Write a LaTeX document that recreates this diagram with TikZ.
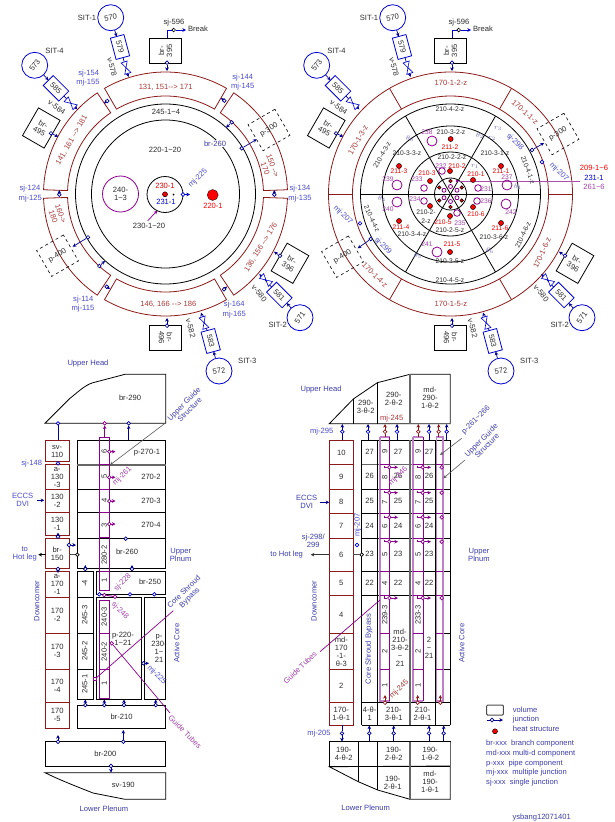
\documentclass[tikz,border=0pt]{standalone}
\usepackage{fontspec}
\setmainfont{Liberation Sans}
\usetikzlibrary{arrows.meta}

\definecolor{ringred}{HTML}{8B1A1A}
\definecolor{txtred}{HTML}{A83838}
\definecolor{txtblue}{HTML}{4A4AC8}
\definecolor{txtnavy}{HTML}{3C3CA8}
\definecolor{navy}{HTML}{000090}
\definecolor{jblue}{HTML}{0000D0}
\definecolor{tubepurple}{HTML}{8B008B}
\definecolor{tubelight}{HTML}{C080C8}
\definecolor{txtpurple}{HTML}{A040A8}
\definecolor{txtdark}{HTML}{2A2A2A}

\newcommand{\lblfont}{\fontsize{7.6}{8}\selectfont}
\newcommand{\smfont}{\fontsize{6.7}{7.5}\selectfont}

% junction with an arrow leaving it / arrow coming into it
\newcommand{\jct}[4][navy]{\node[jn,draw=#1] (#2) at (#3) {}; \coordinate (#2h) at (#4); \draw[arw,#1] (#2) -- (#2h);}
\newcommand{\jin}[4][navy]{\node[jn,draw=#1] (#2) at (#3) {}; \coordinate (#2t) at (#4); \draw[arw,#1] (#2t) -- (#2);}
% box given by its corners
\newcommand{\cell}[7][box]{\node[#1,minimum width={(#5-#3)*1pt},minimum height={(#6-#4)*1pt}] (#2) at ({(#3+#5)/2},{(#4+#6)/2}) {#7};}
\newcommand{\ringsector}[2]{\draw[ring] (#1:122pt) arc[start angle=#1,end angle=#2,radius=122pt] -- (#2:98pt) arc[start angle=#2,end angle=#1,radius=98pt] -- cycle;}
\newcommand{\valve}[3]{\draw[jblue,fill=white,line width=0.6pt,shift={(#1,#2)},rotate=#3] (-6pt,-3.2pt) -- (6pt,3.2pt) -- (6pt,-3.2pt) -- (-6pt,3.2pt) -- cycle;}

\tikzset{
  lbl/.style={font=\lblfont,text=txtdark,inner sep=0pt,align=center},
  smlbl/.style={font=\smfont,text=txtdark,inner sep=0pt,align=center},
  bluelbl/.style={lbl,text=txtblue},
  navylbl/.style={lbl,text=txtnavy},
  redlbl/.style={lbl,text=txtred},
  purplelbl/.style={lbl,text=txtpurple},
  box/.style={draw=black,line width=0.8pt,font=\lblfont,text=txtdark,inner sep=0pt,outer sep=0pt,align=center},
  redbox/.style={box,draw=ringred,line width=0.9pt},
  ring/.style={draw=ringred,line width=0.8pt},
  dashbox/.style={box,dashed,line width=0.6pt,minimum width=31pt,minimum height=30pt,rotate=30},
  tank/.style={box,circle,draw=jblue,minimum size=26pt},
  sitbox/.style={box,draw=jblue,minimum width=22pt,minimum height=14pt},
  brbox/.style={box,minimum width=25pt,minimum height=32pt},
  jn/.style={circle,draw,fill=white,line width=0.7pt,inner sep=0pt,minimum size=3.6pt},
  arw/.style={-{Stealth[length=3.6pt,width=3.6pt]},line width=0.7pt},
  leader/.style={-{Stealth[length=3.5pt,width=3pt]},draw=black!65,line width=0.6pt},
  tube/.style={draw=tubepurple,line width=0.9pt},
  tubeband/.style={draw=tubelight,line width=1.6pt},
  htdot/.style={circle,draw=black,fill=red,line width=0.5pt,inner sep=0pt,minimum size=5pt},
  pcirc/.style={circle,draw=tubepurple,line width=0.8pt,inner sep=0pt,minimum size=#1},
  % accumulators, valves and their lines round a disk
  sitset/.pic={
    \node[tank] (-c570) at (110.7,17.7) {\rotatebox{10}{570}};
    \node[tank] (-c573) at (34.7,65.3) {\rotatebox{55}{573}};
    \node[tank] (-c571) at (300,317.7) {\rotatebox{55}{571}};
    \node[tank] (-c572) at (219,371) {\rotatebox{10}{572}};
    \node[sitbox,rotate=-75] (-b579) at (120,47) {579};
    \node[sitbox,rotate=-45] (-b585) at (56,88.3) {585};
    \node[sitbox,rotate=-45] (-b581) at (279.3,295) {581};
    \node[sitbox,rotate=-75] (-b583) at (210.7,341) {583};
    \coordinate (-t578) at (128.5,77);
    \coordinate (-t584) at (77.3,109.3);
    \coordinate (-t580) at (259.3,274);
    \coordinate (-t582) at (201,312.7);
    \draw[arw,navy] (-c570) -- (-b579);
    \draw[arw,navy] (-c573) -- (-b585);
    \draw[arw,navy] (-c571) -- (-b581);
    \draw[arw,navy] (-c572) -- (-b583);
    \draw[arw,navy] (-b579) -- (-t578);
    \draw[arw,navy] (-b585) -- (-t584);
    \draw[arw,navy] (-b581) -- (-t580);
    \draw[arw,navy] (-b583) -- (-t582);
    \valve{126}{67.7}{-72}
    \valve{70.7}{103.3}{-42}
    \valve{266}{280}{-42}
    \valve{204}{322.7}{-72}
    \node[lbl] (-s1) at (87,18) {SIT-1};
    \node[lbl] (-s4) at (54.5,51) {SIT-4};
    \node[lbl] (-s2) at (277.7,325) {SIT-2};
    \node[lbl] (-s3) at (247.3,361) {SIT-3};
    \node[lbl,rotate=-75] (-v578) at (112,66.7) {v-578};
    \node[lbl,rotate=-35] (-v584) at (56.7,107.3) {v-584};
    \node[lbl,rotate=-50] (-v580) at (259.3,293.3) {v-580};
    \node[lbl,rotate=-75] (-v582) at (190.7,328.3) {v-582};
  },
  % branch boxes round a disk
  brset/.pic={
    \node[brbox,rotate=90] (-b395) at (165.5,50.8) {br-\\395};
    \node[brbox,rotate=-90] (-b496) at (165.5,337.5) {br-\\496};
    \node[brbox,rotate=-30] (-b495) at (41.3,128) {br-\\495};
    \node[brbox,rotate=-30] (-b396) at (290,263.3) {br-\\396};
    \jct{-j395}{167,62.7}{167,71}
    \jct{-j496}{167,325.7}{167,318}
    \jct{-j495}{51,133.3}{58.3,136.7}
    \jct{-j396}{280,255.7}{274,251.7}
    \node[jn,draw=black] (-j596) at (173.7,30) {};
    \coordinate (-t596) at (186,30);
    \coordinate (-e596) at (167,30);
    \coordinate (-f596) at (167,38.3);
    \draw[jblue,line width=0.7pt] (-f596) -- (-e596) -- (-j596);
    \draw[arw,jblue] (-j596) -- (-t596);
    \node[lbl] (-l596) at (174,23) {sj-596};
    \node[lbl] (-break) at (198,29) {Break};
  }
}

\begin{document}
\begin{tikzpicture}[x=1pt,y=-1pt]
\useasboundingbox (0,0) rectangle (615,822);

% left disk
\begin{scope}[shift={(165.5,194)}]
\ringsector{60}{120}
\ringsector{2}{56}
\ringsector{-2}{-56}
\ringsector{-60}{-120}
\ringsector{-124}{-178}
\ringsector{124}{178}
\draw[line width=0.8pt] (0pt,0pt) circle[radius=90pt];
\draw[line width=0.8pt] (0pt,0pt) circle[radius=74pt];
\end{scope}
\pic (DL) at (0,0) {sitset};
\pic (BL) at (0,0) {brset};

\node[pcirc=36pt] (c240) at (120.5,194) {};
\node[circle,draw=black,line width=0.8pt,minimum size=36pt,inner sep=0pt] (c230) at (165,194.5) {};
\node[circle,draw=black,fill=red,inner sep=0pt,minimum size=11pt,line width=0.3pt] (h220) at (212.7,195) {};
\node[htdot] (h230) at (165,194.3) {};
\node[circle,fill=black,inner sep=0pt,minimum size=2pt] (d231) at (173.5,194.5) {};
\jct[jblue]{j225}{183,194.5}{190,194.5}
\coordinate (a230s) at (147.7,220.7);
\coordinate (a230e) at (157.3,210.7);
\draw[arw,tubepurple] (a230s) -- (a230e);

\node[redlbl,text=red!85!black] (l230) at (165,186) {230-1};
\node[bluelbl,text=jblue] (l231) at (166,202) {231-1};
\node[redlbl,text=red] (l220) at (213,206) {220-1};
\node[lbl] (l2301) at (149,226) {230-1\textasciitilde 20};
\node[lbl] (l240) at (120.5,194) {240-\\1\textasciitilde 3};
\node[lbl] (l245) at (166,112) {245-1\textasciitilde 4};
\node[lbl] (l220a) at (165,150) {220-1\textasciitilde 20};
\node[bluelbl,rotate=45] (lmj225) at (198,178) {mj-225};
\node[navylbl,fill=white,inner sep=0.5pt] (lbr260) at (215,143.3) {br-260};

\node[redlbl] (s131) at (165.7,87) {131, 151-{}-> 171};
\node[redlbl,rotate=-70] (s150) at (269,167) {150 -{}->\\170};
\node[redlbl,rotate=60] (s141) at (71.7,140) {141, 161 -{}-> 181};
\node[redlbl,rotate=-70] (s160) at (57,215) {160->\\180};
\node[redlbl,rotate=58] (s136) at (261,247.3) {136, 156 -{}-> 176};
\node[redlbl] (s146) at (168.3,304.3) {146, 166 -{}-> 186};
\node[dashbox] (p300a) at (269,130) {p-300};
\node[dashbox] (p400a) at (57.5,255.7) {p-400};

\jct{j155}{107.3,101}{104,103.5}
\jct{j145}{224.3,100.7}{221,98}
\jct{j300b}{231.7,122.3}{226,127.7}
\jct{j300a}{241.7,148.3}{256.7,139.3}
\jct{j125}{59.3,194.7}{59.3,190}
\jct{j135}{274.3,194.7}{274.3,190}
\jct{j400a}{88,237.3}{72.7,246.7}
\jct{j400b}{99.3,266}{105,261}
\jct{j115}{106.7,286.7}{110,289}
\jct{j165}{224,289.3}{227,286.5}

\node[bluelbl] (l154) at (88.7,73.3) {sj-154};
\node[bluelbl] (l155) at (88,83) {mj-155};
\node[bluelbl] (l144) at (242.7,77.3) {sj-144};
\node[bluelbl] (l145) at (242.7,87) {mj-145};
\node[bluelbl] (l124) at (30,189) {sj-124};
\node[bluelbl] (l125) at (30.3,199) {mj-125};
\node[bluelbl] (l134) at (300,189) {sj-134};
\node[bluelbl] (l135) at (300,199) {mj-135};
\node[bluelbl] (l114) at (83.3,299.3) {sj-114};
\node[bluelbl] (l115) at (83,309) {mj-115};
\node[bluelbl] (l164) at (234.3,305) {sj-164};
\node[bluelbl] (l165) at (234.3,315) {mj-165};

% right disk
\begin{scope}[shift={(450.5,194)}]
\foreach \r in {122,98} \draw[ring] (0pt,0pt) circle[radius=\r pt];
\foreach \r in {90,68,42,16} \draw[line width=0.8pt] (0pt,0pt) circle[radius=\r pt];
\foreach \a in {0,60,...,300} \draw[ring] (\a:98pt) -- (\a:122pt);
\foreach \a in {0,60,120} \draw[line width=0.8pt] (\a:90pt) -- (\a+180:90pt);
\foreach \a in {30,90,...,330} \node[htdot,minimum size=3.6pt] (hc\a) at (\a:13pt) {};
\foreach \a in {30,90,...,330} \node[pcirc=4pt,fill=white] (pc\a) at (\a:7.5pt) {};
\end{scope}
\pic (DR) at (282,0) {sitset};
\pic (BR) at (285,0) {brset};

\node[circle,fill=tubepurple,inner sep=0pt,minimum size=3pt] (p231) at (457,181) {};
\coordinate (p231e) at (580,181);
\draw[draw=tubepurple!70,line width=1pt] (p231) -- (p231e);

\foreach \n/\x/\y in {2/450.7/139,3/399/166,1/501/166,4/399/221,6/501/223,5/450/252} \node[htdot] (ho\n) at (\x,\y) {};
\foreach \n/\x/\y in {2/450/171,3/430/181,1/473/180,6/473/207,5/450/216,4/430/206} \node[htdot] (hm\n) at (\x,\y) {};
\foreach \n/\x/\y in {238/432/141,237/507/185,239/397/185,240/397/202,242/506/204,241/437/252} \node[pcirc=10pt] (pb\n) at (\x,\y) {};
\foreach \n/\x/\y in {232/442/171,233/424/188,231/478/188,236/477/201,235/457/213,234/424/201} \node[pcirc=6.6pt] (ps\n) at (\x,\y) {};

\foreach \n/\x/\y in {238/427/132,237/507/177,239/388/179,233/417/179,232/441/166,231/486/189,236/486/201,235/460/223,234/415/199,240/388/209,242/511/212,241/427/244}
  \node[smlbl,text=txtpurple] (lp\n) at (\x,\y) {\n};
\foreach \n/\x/\y in {211-2/450/147,211-3/399/171,211-1/501/171,211-4/401/227,211-6/500/228,211-5/452/244,210-2/457/166,210-3/427/173,210-1/476/174,210-6/476/214,210-5/443/222}
  \node[smlbl,text=red!90!black] (lr\n) at (\x,\y) {\n};
\foreach \n/\x/\y/\r in {4-2/450/109/0,3-2/451/132/0,2-2/452/157/0,3-3/407/153/0,3-1/495/153/0,4-3/382/155/60,4-1/528/170/-70,4-4/372/219/-65,4-6/523/235/65,4-5/450/280/0,3-4/412/234/0,3-5/450/261/0,3-6/494/237/0,2-5/450/230/0}
  \node[smlbl,rotate=\r] (lz\n) at (\x,\y) {210-\n-z};
\node[smlbl] (lz2-4) at (426,217) {210-2-\\[1.6pt]2-z};
\foreach \n/\x/\y/\t in {t3/410/139/\theta_3,t2/480/136/\theta_2,r3/498/128/r_3,r2/492/138/r_2,t1/518/187/\theta_1,r1/475/166/r_1,t4/382/199/\theta_4,t5/418/256/\theta_5,t6/490/251/\theta_6}
  \node[smlbl,text=txtnavy!80] (lg\n) at (\x,\y) {$\t$};

\foreach \n/\x/\y/\r in {2/451/83/0,1/525/112/-42,3/358/140/60,4/375/275/-45,5/451/304/0,6/542/253/65}
  \node[redlbl,rotate=\r] (lq\n) at (\x,\y) {170-1-\n-z};
\node[dashbox] (p300b) at (558,134) {p-300};
\node[dashbox] (p400b) at (342.5,256.7) {p-400};
\jct{j298}{532,150}{544,143}
\node[jn,draw=jblue] (j207a) at (542,162) {};
\node[jn,draw=jblue] (j207b) at (360,223.3) {};
\jct{j299}{370.7,239}{357.7,248.3}
\node[bluelbl,rotate=-45] (l298) at (515,142) {sj-298};
\node[bluelbl,rotate=-45] (l207a) at (559,172) {mj-207};
\node[bluelbl,rotate=-45] (l207b) at (343,215) {mj-207};
\node[bluelbl,rotate=-45] (l299) at (383,246) {sj-299};
\node[lbl,text=red] (l209) at (594,168) {209-1\textasciitilde 6};
\node[lbl,text=jblue] (l2311) at (594,178) {231-1};
\node[purplelbl] (l261) at (594,187) {261\textasciitilde 6};

% lower left section
\node[navylbl] (lUH) at (88,364) {Upper Head};
\draw[box] (45,423.3) -- (70,398.3) .. controls (78,392) and (85,385) .. (93,382.7) -- (125,374.3) -- (165.7,374.3) -- (165.7,423.3) -- cycle;
\node[lbl] (l290) at (130,398) {br-290};

\cell[redbox]{sv110}{45}{440.3}{69.3}{461.7}{sv-\\110}
\cell[redbox]{c1303}{45}{464.7}{69.3}{489.3}{a-\\130\\-3}
\cell[redbox]{c1302}{45}{489.3}{69.3}{512.3}{130\\-2}
\cell[redbox]{c1301}{45}{512.3}{69.3}{535.3}{130\\-1}
\cell[redbox]{br150}{45}{538.3}{69.3}{568.3}{br-\\150}
\cell[redbox]{c1701}{45}{571.3}{69.3}{597.3}{a-\\170\\-1}
\cell[redbox]{c1702}{45}{597.3}{69.3}{633.3}{170\\-2}
\cell[redbox]{c1703}{45}{633.3}{69.3}{669.3}{170\\-3}
\cell[redbox]{c1704}{45}{669.3}{69.3}{702.3}{170\\-4}
\cell[redbox]{c1705}{45}{702.3}{69.3}{728.3}{170\\-5}

\cell{p2701}{77.3}{440.3}{165.7}{465}{}
\cell{p2702}{77.3}{465}{165.7}{489.3}{}
\cell{p2703}{77.3}{489.3}{165.7}{512.3}{}
\cell{p2704}{77.3}{512.3}{165.7}{538.7}{}
\cell{br260}{77.3}{538.7}{165.7}{568.3}{}
\draw[black!60,line width=1.3pt] (p2701.south west) -- (p2701.south east);
\node[lbl] (l2701) at (147,452.5) {p-270-1};
\node[lbl] (l2702) at (151,476.5) {270-2};
\node[lbl] (l2703) at (151,500.5) {270-3};
\node[lbl] (l2704) at (151,524.5) {270-4};
\node[lbl] (l260) at (127,552) {br-260};

\cell{c2454}{77.3}{571.3}{93.3}{597.3}{}
\cell{br250}{96.7}{571.3}{165.7}{594.3}{}
\node[lbl] (l250) at (150,582) {br-250};
\cell{c2453}{77.3}{597.3}{93.3}{633.3}{}
\cell{c2452}{77.3}{633.3}{93.3}{669.3}{}
\cell{c2451}{77.3}{669.3}{93.3}{699.3}{}
\foreach \n/\y/\t in {4/583.3/-4,3/615/245-3,2/651/245-2,1/684/245-1} \node[lbl,rotate=90] (l245\n) at (84.8,\y) {\t};
\cell{p220}{96.7}{597.3}{141.7}{699.3}{}
\cell{p230}{144.7}{597.3}{165.7}{699.3}{}
\node[lbl] (l220p) at (123,639) {p-220-\\1\textasciitilde 21};
\node[lbl] (l230p) at (159,648) {p-\\230-\\1\textasciitilde \\21};
\cell{br210}{77.3}{705.7}{165.7}{728.3}{br-210}
\cell{br200}{45}{741.7}{165.7}{766.7}{br-200}
\draw[box] (45,772.7) .. controls (62,781) and (78,787) .. (93,793) -- (125,799.3) -- (165.7,799.3) -- (165.7,772.7) -- cycle;
\node[lbl] (l190) at (123.3,785) {sv-190};
\node[navylbl] (lLP) at (104,808.3) {Lower Plenum};

% guide tube column
\draw[tube] (99.3,437) rectangle (109.3,590.7);
\foreach \y in {464.7,489.3,512.3,537.7,571} \draw[tube] (99.3,\y) -- (109.3,\y);
\draw[tube] (99.3,600.7) rectangle (109.3,698.3);
\foreach \y in {633.3,669.3} \draw[tube] (99.3,\y) -- (109.3,\y);
\foreach \n/\y/\t in {6/451/6,5/476.7/5,4/500.3/4,3/525/3,280/555/280-2,1/580/1,g3/616.7/240-3,g2/651.7/240-2,g1/683.3/1}
  \node[lbl,rotate=90] (lt\n) at (104.3,\y) {\t};
\foreach \n/\y in {1/451.7,2/477.3,3/501,4/524} {\jct[tubepurple]{jt\n}{109.3,\y}{115.5,\y}}

\node[jn,draw=tubepurple] (jg240) at (104.3,595) {};
\node[jn,draw=tubepurple] (jg248) at (115,596.7) {};
\draw[tube] (jg240) -- (jg248);
\node[jn,rectangle,draw=tubepurple,minimum size=3pt] (jgcs) at (95,679) {};
\coordinate (ecs) at (173.3,610.7);
\draw[tube,line width=0.7pt] (jgcs) -- (ecs);
\node[jn,draw=tubepurple] (jggt) at (111.7,643.3) {};
\coordinate (egt) at (170,713);
\draw[tube,line width=0.7pt] (jggt) -- (egt);

\node[jn,draw=jblue] (j290a) at (58,423.3) {};
\coordinate (t290a) at (58,440.3);
\draw[jblue!80!black,line width=0.8pt] (t290a) -- (j290a);
\jin[tubepurple]{j290b}{104.7,423.3}{104.7,437}
\jin{j290c}{128.7,423.3}{128.7,440.3}
\node[jn,draw=jblue] (j148) at (58,463.3) {};
\jct{j150a}{58,536.7}{58,532.5}
\jct{j170a}{58,569}{58,573}
\jct{j150b}{69,545}{76,545}
\node[jn,draw=black] (j150c) at (77.3,554.7) {};
\coordinate (e150a) at (69.3,554.7);
\draw[black!70,line width=0.8pt] (e150a) -- (j150c);
\coordinate (s150) at (45.7,554.7);
\coordinate (t150) at (38.3,554.7);
\draw[arw,black] (s150) -- (t150);
\node[jn,draw=navy] (j270) at (125.7,538.7) {};
\jct{j255}{85.3,569}{85.3,565}
\jct{j250}{132,569}{132,565}
\foreach \n/\x in {a/99.3,b/130,c/154.3} \node[jn,draw=jblue] (jb\n) at (\x,594.3) {};
\foreach \n/\x in {a/85.3,b/104.3,c/124,d/155.7} {\jct{jc\n}{\x,705}{\x,699.5}}
\jct{j225b}{143.3,663.3}{149,663.3}
\jct{j170b}{58,741.7}{58,735}
\jct{j200}{123.3,741.7}{123.3,730}
\jct{j190}{111,766}{111,772.5}

\coordinate (ugA) at (165,423.3);
\coordinate (ugB) at (110,465);
\draw[leader] (ugA) -- (ugB);
\coordinate (ecA) at (36.7,500.3);
\coordinate (ecB) at (44.3,500.3);
\draw[arw,navy] (ecA) -- (ecB);

\node[bluelbl] (l148) at (31.7,463.3) {sj-148};
\node[bluelbl] (leccsA) at (22.7,500) {ECCS\\DVI};
\node[bluelbl] (lhotA) at (24.7,554.3) {to\\Hot leg};
\node[navylbl] (lplA) at (180.7,554.5) {Upper\\Plnum};
\node[navylbl,rotate=90] (ldcA) at (36.7,601) {Downcomer};
\node[navylbl,rotate=90] (lacA) at (176.7,643.3) {Active Core};
\node[navylbl,rotate=45] (lugA) at (186.7,406.7) {Upper Guide\\Structure};
\node[navylbl,rotate=45] (lcsA) at (187,595) {Core Shroud\\Bypass};
\node[purplelbl,rotate=45] (l261a) at (122.3,476) {mj-261};
\node[purplelbl,rotate=45] (l228) at (122.7,582.7) {sj-228};
\node[purplelbl,rotate=-45] (l248) at (120,610.7) {sj-248};
\node[purplelbl,rotate=-45] (lgtA) at (185,731.7) {Guide Tubes};
\node[bluelbl,rotate=-45] (l225b) at (156.7,675) {mj-225};

% lower right section
\node[navylbl] (lUH2) at (321,390) {Upper Head};
\draw[box] (329.3,423.7) -- (353.3,399) -- (377.3,382.7) -- (410,374.3) -- (450.3,374.3) -- (450.3,423.7) -- cycle;
\draw[box] (353.3,399) -- (353.3,423.7);
\draw[box] (377.3,382.7) -- (377.3,423.7);
\draw[black!60,line width=1.3pt] (410,374.3) -- (410,423.7) -- (450.3,423.7) -- (450.3,374.3);
\node[lbl] (u3) at (365.7,406.5) {290-\\3-θ-2};
\node[lbl] (u2) at (393.7,398.5) {290-\\2-θ-2};
\node[lbl] (u1) at (430,398) {md-\\290-\\1-θ-2};
\node[redlbl] (l245r) at (391.7,418.3) {mj-245};

\cell[redbox]{r10}{329.3}{440.3}{353.3}{464.7}{10}
\cell[redbox]{r9}{329.3}{464.7}{353.3}{489.3}{9}
\cell[redbox]{r8}{329.3}{489.3}{353.3}{513.7}{8}
\cell[redbox]{r7}{329.3}{513.7}{353.3}{538.3}{7}
\cell[redbox]{r6}{329.3}{538.3}{353.3}{571}{6}
\cell[redbox]{r5}{329.3}{571}{353.3}{595.7}{5}
\cell[redbox]{r4}{329.3}{595.7}{353.3}{633.3}{4}
\cell[redbox]{r3}{329.3}{633.3}{353.3}{669.3}{md-\\170\\-1-\\θ-3}
\cell[redbox]{r2}{329.3}{669.3}{353.3}{702.3}{2}
\cell[redbox]{r1}{329.3}{702.3}{353.3}{725.3}{170-\\1-θ-1}

\foreach \y in {440.3,489.3,513.7,538.3,571,595.7,702.3,725.3} \draw[line width=0.8pt] (361.7,\y) -- (450.3,\y);
\draw[black!60,line width=1.3pt] (361.7,464.7) -- (450.3,464.7);
\foreach \x in {361.7,377.7,435,450.3} \draw[line width=0.8pt] (\x,440.3) -- (\x,725.3);
\draw[black!60,line width=1.3pt] (410,440.3) -- (410,725.3);
\foreach \y in {633.3,669.3} \draw[line width=0.8pt] (435,\y) -- (450.3,\y);

\draw[tubeband] (379.7,436.7) -- (379.7,701) -- (389.7,701);
\draw[tubeband] (379.7,436.7) -- (389.7,436.7);
\draw[tube] (389.7,436.7) -- (389.7,701);
\draw[tubeband] (413,436.7) -- (413,701) -- (423,701);
\draw[tubeband] (413,436.7) -- (423,436.7);
\draw[tube] (423,436.7) -- (423,701);
\draw[tubeband] (436.3,436.7) rectangle (442.7,701);
\foreach \y in {464.7,489.3,513.7,538.3,571,595.7,633.3,669.3} {
  \draw[tube] (379.7,\y) -- (389.7,\y);
  \draw[tube] (413,\y) -- (423,\y);
  \draw[tube] (436.3,\y) -- (442.7,\y);
}

\foreach \t/\y in {27/452,26/476,25/501,24/525.7,23/554,22/583} {
  \node[lbl] (nA\t) at (369.5,\y) {\t};
  \node[lbl] (nB\t) at (398,\y) {\t};
  \node[lbl] (nC\t) at (429,\y) {\t};
}
\foreach \n/\y/\t in {9/451/9,8/477.3/8,7/502.3/7,6/526.7/6,5/554/5,4/583.3/4,x2/651.7/2,x1/685.7/1} {
  \node[lbl,rotate=90] (tA\n) at (384.7,\y) {\t};
  \node[lbl,rotate=90] (tB\n) at (418,\y) {\t};
}
\node[lbl,rotate=90] (tA2393) at (384.7,615) {239-3};
\node[lbl,rotate=90] (tB2333) at (418,615) {233-3};
\node[lbl] (n2a) at (400,648) {md-\\210-\\3-θ-2\\\textasciitilde\\21};
\node[lbl] (n2b) at (429,648) {2\\\textasciitilde\\21};
\node[lbl] (n41) at (369.7,713.8) {4-θ-\\1};
\node[lbl] (n31) at (393.8,713.8) {210-\\3-θ-1};
\node[lbl] (n21) at (422.5,713.8) {210-\\2-θ-1};

\foreach \n/\y in {1/467.3,2/492.7,3/517.3,4/541.7,5/598} {
  \jct[tubepurple]{jA\n}{389.3,\y}{398,\y}
  \coordinate (eA\n) at (384,\y-1.8);
  \draw[tube,line width=0.7pt] (eA\n) |- (jA\n);
  \jct[tubepurple]{jB\n}{422.7,\y}{431,\y}
  \coordinate (eB\n) at (417.3,\y-1.8);
  \draw[tube,line width=0.7pt] (eB\n) |- (jB\n);
  \node[jn,draw=tubepurple] (jC\n) at (441.7,\y) {};
}
\foreach \n/\x in {a/385,b/417.7,c/440.3} {\jct[ringred]{jr\n}{\x,702.7}{\x,695}}

\foreach \n/\x in {a/342.3,b/368,d/397,f/429,h/446.7} {
  \node[jn,draw=jblue] (ju\n) at (\x,431.7) {};
  \coordinate (uu\n) at (\x,424);
  \coordinate (ul\n) at (\x,440.3);
  \draw[navy,line width=0.7pt] (ul\n) -- (ju\n);
  \draw[arw,navy] (ju\n) -- (uu\n);
}
\foreach \n/\x in {c/385,e/418.3,g/438.7} {
  \node[jn,draw=ringred] (ju\n) at (\x,431.7) {};
  \coordinate (uu\n) at (\x,424);
  \coordinate (ul\n) at (\x,437);
  \draw[ringred,line width=0.7pt] (ul\n) -- (ju\n);
  \draw[arw,ringred] (ju\n) -- (uu\n);
}

\node[jn,draw=jblue] (j207c) at (357,545) {};
\node[jn,draw=black] (j298b) at (361.7,554.7) {};
\coordinate (e298) at (353.3,554.7);
\draw[black!70,line width=0.8pt] (e298) -- (j298b);
\coordinate (s298) at (329.3,554.7);
\coordinate (t298) at (310.7,554.7);
\draw[arw,black!80,line width=1pt] (s298) -- (t298);
\coordinate (ecC) at (320,502.3);
\coordinate (ecD) at (329.3,502.3);
\draw[arw,navy] (ecC) -- (ecD);

\coordinate (pgA) at (461.7,438.3);
\coordinate (pgB) at (440,455);
\draw[leader] (pgA) -- (pgB);
\coordinate (ugC) at (465,460);
\coordinate (ugD) at (443.3,478.3);
\draw[leader] (ugC) -- (ugD);
\coordinate (gtA) at (320,651.7);
\coordinate (gtB) at (380,600);
\draw[tube,line width=0.7pt] (gtA) -- (gtB);

% bottom of right section
\jct{jd0}{342,733.3}{342,741.5}
\coordinate (jd0s) at (342,725.3);
\draw[navy,line width=0.7pt] (jd0s) -- (jd0);
\foreach \n/\x in {1/369.3,2/393.7,3/429,4/443.7} {
  \jct{jd\n}{\x,733.3}{\x,725.5}
  \coordinate (jd\n s) at (\x,741.7);
  \draw[navy,line width=0.7pt] (jd\n s) -- (jd\n);
}
\cell{q4}{329.3}{741.7}{358.3}{766}{190-\\4-θ-2}
\cell{q3}{358.3}{741.7}{377.7}{766}{}
\cell{q2}{377.7}{741.7}{410}{766}{190-\\2-θ-2}
\cell{q1}{410}{741.7}{450.3}{766}{190-\\1-θ-2}
\draw[box] (329.3,766.7) -- (358.3,781.7) -- (377.7,790) -- (410,799.3) -- (450.3,799.3) -- (450.3,766) -- cycle;
\draw[box] (358.3,766) -- (358.3,781.7);
\draw[box] (377.7,766) -- (377.7,790);
\draw[black!60,line width=1.3pt] (410,741.7) -- (410,799.3);
\draw[black!60,line width=1pt] (410,799.3) -- (450.3,799.3) -- (450.3,741.7);
\node[lbl] (v2) at (392.7,782.5) {190-\\2-θ-1};
\node[lbl] (v1) at (430,782) {md-\\190-\\1-θ-1};

\node[navylbl] (lLP2) at (365.7,807.3) {Lower Plenum};
\node[navylbl,rotate=90] (ldcB) at (314,601) {Downcomer};
\node[navylbl,rotate=90] (lcsB) at (369,649) {Core Shroud Bypass};
\node[navylbl,rotate=90] (lacB) at (461.7,643.3) {Active Core};
\node[navylbl,rotate=45] (lugB) at (484,443) {Upper Guide\\Structure};
\node[navylbl,rotate=45] (lpgB) at (476,420) {p-261\textasciitilde 266};
\node[navylbl] (lplB) at (479,554.5) {Upper\\Plnum};
\node[navylbl] (leccsB) at (306.7,502) {ECCS\\DVI};
\node[navylbl] (lhotB) at (286.7,554.3) {to Hot leg};
\node[navylbl] (l298b) at (313.3,541) {sj-298/\\299};
\node[bluelbl] (l295) at (321.7,431.7) {mj-295};
\node[bluelbl] (l205) at (319,733.3) {mj-205};
\node[bluelbl,rotate=90] (l207c) at (357.7,525) {mj-207};
\node[purplelbl,rotate=45] (l246) at (398.3,476) {mj-246};
\node[redlbl,rotate=45] (l245s) at (399.3,689.3) {mj-245};
\node[purplelbl,rotate=45] (lgtB) at (300,667.7) {Guide Tubes};

% legend
\node[draw=black!70,line width=1pt,rounded corners=1pt,minimum width=16.6pt,minimum height=10pt,inner sep=0pt] (kvol) at (495,710) {};
\jct{kj}{492,720}{503,720}
\coordinate (kjs) at (486.7,720);
\draw[navy,line width=0.7pt] (kjs) -- (kj);
\node[htdot] (kh) at (495,731.3) {};
\node[navylbl,anchor=west] (kt1) at (512.7,709.3) {volume};
\node[navylbl,anchor=west] (kt2) at (512.7,720) {junction};
\node[navylbl,anchor=west] (kt3) at (512.7,729) {heat structure};
\node[navylbl,anchor=west] (kt4) at (486,743.3) {br-xxx\ \ branch component};
\node[navylbl,anchor=west] (kt5) at (486,753.3) {md-xxx multi-d component};
\node[navylbl,anchor=west] (kt6) at (486,763.3) {p-xxx\ \ pipe component};
\node[navylbl,anchor=west] (kt7) at (486,772.7) {mj-xxx\ \ multiple junction};
\node[navylbl,anchor=west] (kt8) at (486,782.7) {sj-xxx\ \ single junction};
\node[navylbl] (ktag) at (541.7,817.3) {ysbang12071401};
\end{tikzpicture}
\end{document}
